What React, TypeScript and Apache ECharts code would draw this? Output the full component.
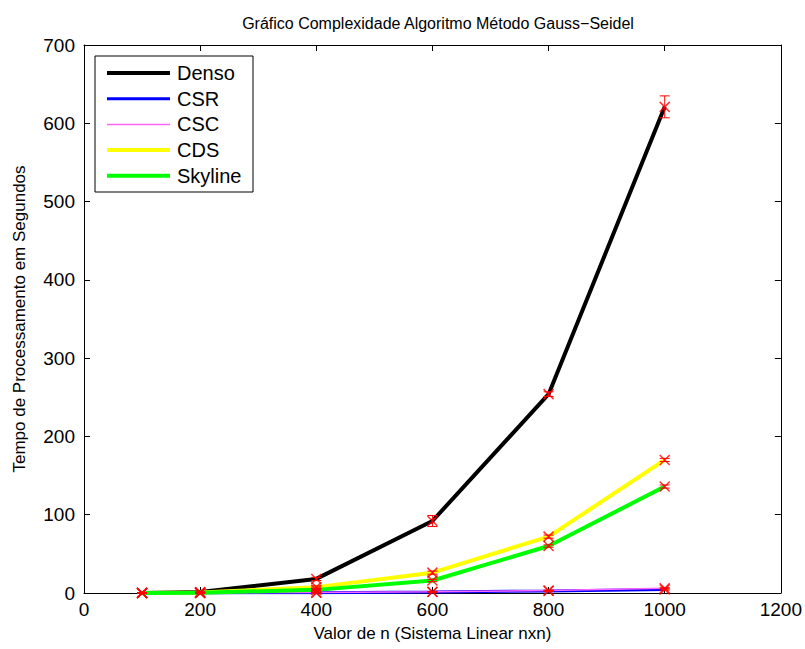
import React, { useEffect, useRef } from "react";
import * as echarts from "echarts";

const nValues = [100, 200, 400, 600, 800, 1000];
const seriesNames = ["Denso", "CSR", "CSC", "CDS", "Skyline"];
const densoVals = [0.1, 1.2, 18, 92, 254, 621];
const csrVals = [0.01, 0.05, 0.4, 1.2, 2.6, 4.5];
const cscVals = [0.01, 0.06, 0.5, 1.5, 3.2, 6];
const cdsVals = [0.05, 0.6, 7.5, 26, 72, 170];
const skylineVals = [0.04, 0.4, 4, 16, 60, 136];
const densoErr = [0.05, 0.3, 2, 7, 3, 14];
const csrErr = [0, 0, 0.2, 0.3, 0.5, 0.8];
const cscErr = [0, 0, 0.2, 0.3, 0.5, 0.8];
const cdsErr = [0.02, 0.1, 1.5, 2, 2, 2];
const skylineErr = [0.02, 0.1, 1, 1.5, 1.5, 2];
const xTicks = [0, 200, 400, 600, 800, 1000, 1200];
const yTicks = [0, 100, 200, 300, 400, 500, 600, 700];

const colors = ["#000000", "#0000ff", "#ff66ff", "#ffff00", "#00ff00"];
const widths = [4, 3, 1.5, 4, 4];
const FONT = "Liberation Sans, Arial, sans-serif";

export default function App() {
  const ref = useRef<HTMLDivElement>(null);
  useEffect(() => {
    const chart = echarts.init(ref.current!, null, { renderer: "svg" });
    const values = [densoVals, csrVals, cscVals, cdsVals, skylineVals];
    const errs = [densoErr, csrErr, cscErr, cdsErr, skylineErr];

    const lineSeries = values.map((vals, i) => ({
      name: seriesNames[i],
      type: "line",
      data: nValues.map((n, j) => [n, vals[j]]),
      showSymbol: false,
      lineStyle: { color: colors[i], width: widths[i] },
      itemStyle: { color: colors[i] },
      z: 2 + i,
    }));

    const errData: number[][] = [];
    const markData: number[][] = [];
    values.forEach((vals, i) => {
      nValues.forEach((n, j) => {
        errData.push([n, vals[j] - errs[i][j], vals[j] + errs[i][j]]);
        markData.push([n, vals[j]]);
      });
    });

    const errSeries = {
      type: "custom",
      name: "err",
      z: 10,
      data: errData,
      renderItem: (params: any, api: any) => {
        const x = api.value(0);
        const lo = api.coord([x, api.value(1)]);
        const hi = api.coord([x, api.value(2)]);
        const w = 5;
        const style = { stroke: "#ff0000", lineWidth: 1 };
        return {
          type: "group",
          children: [
            { type: "line", shape: { x1: lo[0], y1: lo[1], x2: hi[0], y2: hi[1] }, style },
            { type: "line", shape: { x1: lo[0] - w, y1: lo[1], x2: lo[0] + w, y2: lo[1] }, style },
            { type: "line", shape: { x1: hi[0] - w, y1: hi[1], x2: hi[0] + w, y2: hi[1] }, style },
          ],
        };
      },
    };

    const markSeries = {
      type: "scatter",
      name: "marks",
      z: 11,
      data: markData,
      symbol: "path://M0,0 L10,10 M10,0 L0,10",
      symbolSize: 10,
      itemStyle: { color: "none", borderColor: "#ff0000", borderWidth: 1.5 },
    };

    const lgX = 95, lgY = 56, rowH = 25.7;
    const legendChildren: any[] = [
      { type: "rect", shape: { x: lgX, y: lgY, width: 158, height: 136 }, style: { fill: "#fff", stroke: "#000", lineWidth: 1 } },
    ];
    seriesNames.forEach((name, i) => {
      const cy = lgY + 17 + i * rowH;
      legendChildren.push({ type: "line", shape: { x1: lgX + 12, y1: cy, x2: lgX + 75, y2: cy }, style: { stroke: colors[i], lineWidth: widths[i] } });
      legendChildren.push({ type: "text", x: lgX + 82, y: cy, style: { text: name, fill: "#000", font: `20px ${FONT}`, verticalAlign: "middle" } });
    });

    const axisCommon = {
      min: 0,
      axisLine: { show: true, onZero: false, lineStyle: { color: "#000", width: 1 } },
      axisTick: { show: true, inside: true, length: 6, lineStyle: { color: "#000" } },
      splitLine: { show: false },
    };

    chart.setOption({
      animation: false,
      backgroundColor: "#fff",
      title: {
        text: "Gráfico Complexidade Algoritmo Método Gauss−Seidel",
        left: 433,
        textAlign: "center",
        top: 10,
        textStyle: { fontFamily: FONT, fontSize: 16, fontWeight: "normal", color: "#000" },
      },
      grid: { left: 84, right: 21, top: 45, bottom: 56 },
      xAxis: [
        {
          ...axisCommon,
          type: "value",
          max: xTicks[xTicks.length - 1],
          interval: 200,
          name: "Valor de n (Sistema Linear nxn)",
          nameLocation: "middle",
          nameGap: 32,
          nameTextStyle: { fontFamily: FONT, fontSize: 17, color: "#000" },
          axisLabel: { fontFamily: FONT, fontSize: 19, color: "#000", margin: 7, formatter: (v: number) => String(v) },
        },
        {
          ...axisCommon,
          type: "value",
          position: "top",
          max: xTicks[xTicks.length - 1],
          interval: 200,
          axisLabel: { show: false },
        },
      ],
      yAxis: [
        {
          ...axisCommon,
          type: "value",
          max: yTicks[yTicks.length - 1],
          interval: 100,
          name: "Tempo de Processamento em Segundos",
          nameLocation: "middle",
          nameGap: 56,
          nameTextStyle: { fontFamily: FONT, fontSize: 17, color: "#000" },
          axisLabel: { fontFamily: FONT, fontSize: 19, color: "#000", margin: 9, formatter: (v: number) => String(v) },
        },
        {
          ...axisCommon,
          type: "value",
          position: "right",
          max: yTicks[yTicks.length - 1],
          interval: 100,
          axisLabel: { show: false },
        },
      ],
      series: [...lineSeries, errSeries, markSeries],
      graphic: [{ type: "group", z: 100, children: legendChildren }],
    });
    return () => chart.dispose();
  }, []);
  return <div ref={ref} style={{ position: "fixed", left: 0, top: 0, width: 805, height: 649 }} />;
}
